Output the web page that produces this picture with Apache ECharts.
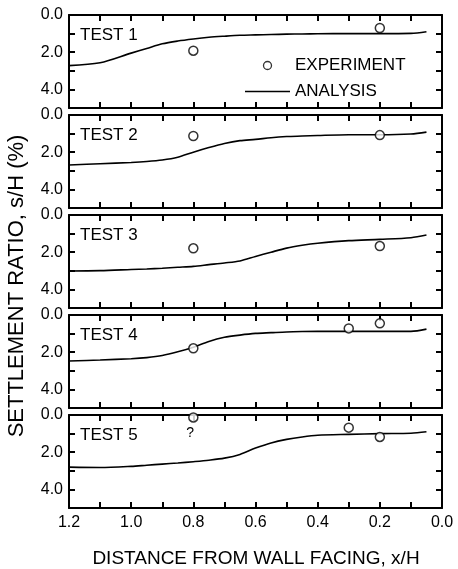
<!DOCTYPE html>
<html>
<head>
<meta charset="utf-8">
<script src="https://cdn.jsdelivr.net/npm/echarts@6/dist/echarts.min.js"></script>
<style>
  html, body { margin: 0; padding: 0; background: #fff; }
  #chart { width: 458px; height: 569px; }
</style>
</head>
<body>
<div id="chart"></div>
<script>
// Distance from wall facing (x/H) where the analysis curves are sampled
const xAnalysis = [1.2, 1.1, 1.0, 0.95, 0.9, 0.85, 0.8, 0.75, 0.7, 0.65, 0.6, 0.55, 0.5, 0.45, 0.4, 0.3, 0.2, 0.1, 0.05];

// Analysis settlement ratio s/H (%) for each test
const analysis1 = [2.72, 2.57, 2.05, 1.8, 1.55, 1.4, 1.29, 1.2, 1.14, 1.09, 1.07, 1.05, 1.03, 1.02, 1.01, 1.0, 1.0, 0.99, 0.9];
const analysis2 = [2.69, 2.62, 2.55, 2.5, 2.42, 2.27, 2.0, 1.75, 1.53, 1.38, 1.31, 1.22, 1.16, 1.13, 1.1, 1.06, 1.06, 1.02, 0.92];
const analysis3 = [3.01, 2.99, 2.93, 2.9, 2.86, 2.81, 2.76, 2.67, 2.58, 2.47, 2.23, 2.0, 1.78, 1.63, 1.52, 1.38, 1.31, 1.22, 1.08];
const analysis4 = [2.47, 2.42, 2.35, 2.29, 2.18, 1.98, 1.73, 1.42, 1.2, 1.08, 0.99, 0.95, 0.91, 0.89, 0.88, 0.88, 0.88, 0.88, 0.76];
const analysis5 = [2.8, 2.82, 2.76, 2.7, 2.64, 2.58, 2.51, 2.43, 2.32, 2.12, 1.78, 1.5, 1.31, 1.18, 1.09, 1.04, 1.0, 0.98, 0.9];

// Measured settlement ratios: [x/H, s/H (%)]
const experiment1 = [[0.8, 1.92], [0.2, 0.7]];
const experiment2 = [[0.8, 1.13], [0.2, 1.08]];
const experiment3 = [[0.8, 1.79], [0.2, 1.67]];
const experiment4 = [[0.8, 1.79], [0.3, 0.72], [0.2, 0.45]];
const experiment5 = [[0.8, 0.13], [0.3, 0.68], [0.2, 1.18]];

// Uncertain reading in test 5
const questionMark = [0.81, 1.0];

const testNames = ['TEST 1', 'TEST 2', 'TEST 3', 'TEST 4', 'TEST 5'];
const analysisSets = [analysis1, analysis2, analysis3, analysis4, analysis5];
const experimentSets = [experiment1, experiment2, experiment3, experiment4, experiment5];

const FONT = '"Liberation Sans", Arial, sans-serif';
const INK = 'black';

const grids = [], xAxes = [], yAxes = [], series = [], graphics = [];
const PANEL_TOP = 15, PANEL_H = 93, PANEL_STEP = 100;

// Each axis gets its own freshly built style objects
function frameLine() {
  return { show: true, onZero: false, lineStyle: { color: INK, width: 2 } };
}
function innerTick() {
  return { show: true, inside: true, length: 6, lineStyle: { color: INK, width: 2 } };
}
function xAxisCfg(gridIndex, position, label) {
  return {
    type: 'value', gridIndex: gridIndex, position: position,
    min: 0, max: 1.2, interval: 0.1, inverse: true, z: 3,
    axisLine: frameLine(), axisTick: innerTick(),
    splitLine: { show: false }, axisLabel: label
  };
}
function yAxisCfg(gridIndex, position, label) {
  return {
    type: 'value', gridIndex: gridIndex, position: position,
    min: 0, max: 5, interval: 1, inverse: true, z: 3,
    axisLine: frameLine(), axisTick: innerTick(),
    splitLine: { show: false }, axisLabel: label
  };
}

testNames.forEach((name, i) => {
  const top = PANEL_TOP + i * PANEL_STEP;
  const isLast = i === testNames.length - 1;
  grids.push({ left: 69, right: 16, top: top, height: PANEL_H });

  xAxes.push(xAxisCfg(i, 'bottom', {
    show: isLast, margin: 7, color: INK, fontFamily: FONT, fontSize: 16,
    formatter: v => (Math.round(v * 10) % 2 === 0 ? v.toFixed(1) : '')
  }));
  xAxes.push(xAxisCfg(i, 'top', { show: false }));

  yAxes.push(yAxisCfg(i, 'left', {
    margin: 6, color: INK, fontFamily: FONT, fontSize: 16,
    formatter: v => (Math.round(v) % 2 === 0 && v < 5 ? v.toFixed(1) : '')
  }));
  yAxes.push(yAxisCfg(i, 'right', { show: false }));

  series.push({
    name: 'ANALYSIS', type: 'line', xAxisIndex: 2 * i, yAxisIndex: 2 * i,
    data: xAnalysis.map((x, k) => [x, analysisSets[i][k]]),
    symbol: 'none', showSymbol: false, smooth: 0.3,
    lineStyle: { color: INK, width: 1.6 },
    itemStyle: { color: INK },
    animation: false
  });

  const scatter = {
    name: 'EXPERIMENT', type: 'scatter', xAxisIndex: 2 * i, yAxisIndex: 2 * i,
    data: experimentSets[i],
    symbol: 'circle', symbolSize: 9,
    itemStyle: { color: '#fff', borderColor: INK, borderWidth: 1.5 },
    z: 5, animation: false
  };
  if (isLast) {
    scatter.markPoint = {
      symbol: 'circle', symbolSize: 0, silent: true, animation: false,
      label: { show: true, formatter: '?', color: INK, fontFamily: FONT, fontSize: 14, position: 'inside' },
      data: [{ coord: questionMark }]
    };
  }
  series.push(scatter);

  graphics.push({
    type: 'text', left: 80, top: top + 12,
    style: { text: name, fill: INK, font: '17px ' + FONT }
  });
});

// Axis titles
graphics.push({
  type: 'text', x: 256, y: 559,
  style: { text: 'DISTANCE FROM WALL FACING, x/H', fill: INK, font: '19px ' + FONT, textAlign: 'center', textVerticalAlign: 'middle' }
});
graphics.push({
  type: 'text', x: 17, y: 286, rotation: Math.PI / 2,
  style: { text: 'SETTLEMENT RATIO, s/H (%)', fill: INK, font: '22px ' + FONT, textAlign: 'center', textVerticalAlign: 'middle' }
});

const chart = echarts.init(document.getElementById('chart'), null, { renderer: 'canvas' });
chart.setOption({
  backgroundColor: '#fff',
  animation: false,
  grid: grids,
  xAxis: xAxes,
  yAxis: yAxes,
  legend: {
    orient: 'vertical', left: 240, top: 52,
    itemWidth: 45, itemHeight: 8, itemGap: 9,
    textStyle: { color: INK, fontFamily: FONT, fontSize: 17, lineHeight: 16 },
    data: [
      { name: 'EXPERIMENT', icon: 'circle', itemStyle: { color: '#fff', borderColor: INK, borderWidth: 1.3 } },
      { name: 'ANALYSIS', icon: 'path://M0,0H45V1.6H0Z', itemStyle: { color: INK, borderWidth: 0 } }
    ],
    selectedMode: false
  },
  series: series,
  graphic: graphics
});
</script>
</body>
</html>
